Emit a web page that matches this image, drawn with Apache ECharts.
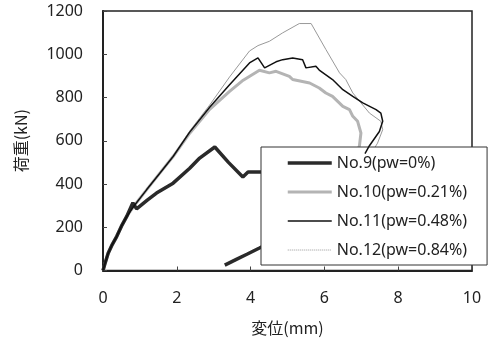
<!DOCTYPE html>
<html><head><meta charset="utf-8">
<script src="https://cdn.jsdelivr.net/npm/echarts@6/dist/echarts.min.js"></script>
<style>html,body{margin:0;padding:0;background:#fff}#c{width:490px;height:342px}</style>
</head><body><div id="c"></div>
<script>
const seriesNames = ['No.9(pw=0%)', 'No.10(pw=0.21%)', 'No.11(pw=0.48%)', 'No.12(pw=0.84%)'];
const xTicks = [0, 2, 4, 6, 8, 10];
const yTicks = [0, 200, 400, 600, 800, 1000, 1200];

const no9X = [0, 0.05, 0.14, 0.25, 0.37, 0.5, 0.64, 0.81, 0.91, 1.2, 1.45, 1.9, 2.35, 2.62, 3.03, 3.4, 3.79, 3.93, 4.3, 5.0, 5.5, 5.2, 4.6, 4.24, 3.9, 3.6, 3.3];
const no9Y = [0, 30, 80, 120, 157, 205, 249, 313, 285, 325, 358, 404, 473, 520, 571, 500, 432, 455, 455, 455, 450, 200, 135, 104, 75, 50, 25];

const no10X = [0, 0.05, 0.14, 0.25, 0.37, 0.5, 0.64, 0.86, 1.18, 1.54, 1.9, 2.35, 2.89, 3.43, 3.8, 4.24, 4.51, 4.69, 5.05, 5.14, 5.6, 5.86, 6.04, 6.22, 6.5, 6.68, 6.77, 6.9, 6.99, 6.95, 6.86];
const no10Y = [0, 30, 80, 120, 157, 205, 249, 303, 373, 450, 527, 635, 745, 828, 880, 926, 914, 921, 898, 883, 867, 844, 821, 805, 759, 744, 713, 690, 636, 577, 540];

const no11X = [0, 0.05, 0.14, 0.25, 0.37, 0.5, 0.64, 0.86, 1.18, 1.54, 1.9, 2.35, 2.89, 3.43, 3.97, 4.2, 4.38, 4.69, 4.87, 5.14, 5.41, 5.5, 5.77, 5.86, 6.22, 6.5, 6.77, 7.04, 7.4, 7.53, 7.58, 7.49, 7.22, 7.1];
const no11Y = [0, 30, 80, 120, 157, 205, 249, 303, 373, 450, 527, 640, 755, 859, 960, 983, 937, 965, 975, 983, 975, 937, 944, 927, 883, 836, 805, 775, 744, 728, 690, 643, 577, 540];

const no12X = [0, 0.05, 0.14, 0.25, 0.37, 0.5, 0.64, 0.86, 1.18, 1.54, 1.9, 2.35, 2.89, 3.43, 3.97, 4.2, 4.51, 4.87, 5.32, 5.64, 6.04, 6.41, 6.58, 6.77, 7.22, 7.53, 7.58, 7.44, 7.3];
const no12Y = [0, 30, 80, 120, 157, 205, 249, 303, 373, 450, 527, 645, 765, 895, 1015, 1040, 1060, 1099, 1142, 1142, 1022, 914, 883, 821, 728, 690, 651, 589, 550];

const zip = (xs, ys) => xs.map((x, i) => [x, ys[i]]);
const chart = echarts.init(document.getElementById('c'), null, {renderer: 'canvas'});
const numFont = 'Noto Sans, Liberation Sans, sans-serif';
const jpFont = 'Noto Sans CJK JP, sans-serif';

const styles = [
  {color: '#2a2a2a', width: 3.5, type: 'solid'},
  {color: '#b4b4b4', width: 3, type: 'solid'},
  {color: '#111111', width: 1.5, type: 'solid'},
  {color: '#999999', width: 1, type: 'solid'}
];

chart.setOption({
  animation: false,
  backgroundColor: '#fff',
  grid: {left: 103, right: 18, top: 11, bottom: 71.5, show: true, borderColor: '#222', borderWidth: 1.5, backgroundColor: 'transparent'},
  xAxis: {
    type: 'value', min: xTicks[0], max: xTicks[xTicks.length - 1], interval: 2,
    name: '変位(mm)', nameLocation: 'middle', nameGap: 49,
    nameTextStyle: {fontFamily: jpFont, fontSize: 16, color: '#222'},
    axisLine: {lineStyle: {color: '#222', width: 2}},
    axisTick: {inside: true, length: 4, lineStyle: {color: '#444'}},
    axisLabel: {fontFamily: numFont, fontSize: 16, color: '#222', margin: 20, formatter: v => String(v)},
    splitLine: {show: false}
  },
  yAxis: {
    type: 'value', min: yTicks[0], max: yTicks[yTicks.length - 1], interval: 200,
    name: '荷重(kN)', nameLocation: 'middle', nameGap: 74, nameRotate: 90,
    nameTextStyle: {fontFamily: jpFont, fontSize: 16, color: '#222'},
    axisLine: {show: true, lineStyle: {color: '#222', width: 2}},
    axisTick: {show: true, inside: true, length: 4, lineStyle: {color: '#444'}},
    axisLabel: {fontFamily: numFont, fontSize: 16, color: '#222', margin: 20, formatter: v => String(v)},
    splitLine: {show: false}
  },
  legend: {
    orient: 'vertical', left: 261, top: 147, width: 222,
    padding: [8, 20, 7, 25], itemWidth: 44, itemHeight: 14, itemGap: 13,
    backgroundColor: '#fff', borderColor: '#333', borderWidth: 1,
    itemStyle: {opacity: 0},
    textStyle: {fontFamily: numFont, fontSize: 16, color: '#222'},
    data: seriesNames.map((n, i) => ({name: n, lineStyle: {color: styles[i].color, width: styles[i].width, type: i === 3 ? 'dotted' : 'solid', opacity: 1}}))
  },
  series: seriesNames.map((n, i) => ({
    name: n, type: 'line', symbol: 'none',
    data: zip([no9X, no10X, no11X, no12X][i], [no9Y, no10Y, no11Y, no12Y][i]),
    lineStyle: {color: styles[i].color, width: styles[i].width, type: styles[i].type},
    itemStyle: {color: styles[i].color},
    z: [3, 2, 4, 2][i]
  }))
});
</script></body></html>
